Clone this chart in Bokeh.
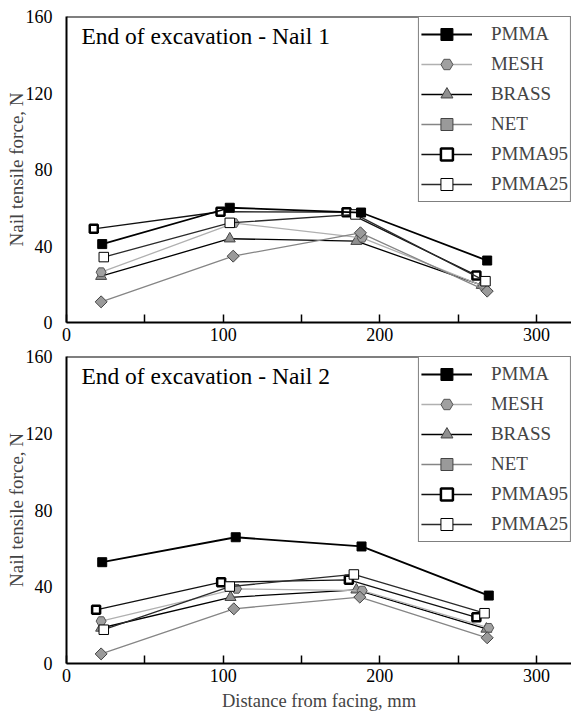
import math
from bokeh.plotting import figure
from bokeh.models import FixedTicker, Legend, LegendItem, Label, Range1d, Span
from bokeh.layouts import column
from bokeh.embed import file_html
from bokeh.resources import INLINE

FONT = "Liberation Serif"

# ---------------- data ----------------
series = ["PMMA", "MESH", "BRASS", "NET", "PMMA95", "PMMA25"]

# Nail 1
n1_pmma_x = [22.8, 104.2, 188.0, 268.5]
n1_pmma_y = [41.0, 60.0, 57.5, 32.4]
n1_mesh_x = [22.1, 107.0, 188.7, 266.0]
n1_mesh_y = [26.3, 52.0, 44.3, 19.0]
n1_brass_x = [22.1, 104.2, 185.0, 265.0]
n1_brass_y = [24.2, 43.8, 42.5, 19.5]
n1_net_x = [22.1, 106.4, 187.6, 268.5]
n1_net_y = [10.8, 34.7, 46.9, 16.4]
n1_pmma95_x = [17.4, 98.3, 178.7, 261.6]
n1_pmma95_y = [49.0, 57.9, 57.7, 24.6]
n1_pmma25_x = [23.8, 104.2, 184.4, 267.4]
n1_pmma25_y = [34.2, 52.1, 56.5, 21.6]

# Nail 2
n2_pmma_x = [22.8, 108.0, 188.3, 269.5]
n2_pmma_y = [52.8, 65.8, 61.0, 35.4]
n2_mesh_x = [22.1, 108.5, 188.7, 269.5]
n2_mesh_y = [22.1, 38.9, 38.0, 18.6]
n2_brass_x = [22.1, 104.7, 185.0, 268.0]
n2_brass_y = [18.5, 34.5, 38.4, 18.0]
n2_net_x = [22.1, 106.8, 187.2, 268.5]
n2_net_y = [5.0, 28.5, 34.6, 13.4]
n2_pmma95_x = [18.9, 98.7, 180.2, 261.6]
n2_pmma95_y = [28.0, 42.4, 43.6, 24.1]
n2_pmma25_x = [23.8, 104.2, 183.4, 266.8]
n2_pmma25_y = [17.6, 40.1, 46.4, 26.2]

x_ticks = [0, 100, 200, 300]
x_minor = [50, 150, 250]
y_ticks = [0, 40, 80, 120, 160]
X_MAX = 322.3
Y_MAX = 160

panel1 = {
    "PMMA": (n1_pmma_x, n1_pmma_y), "MESH": (n1_mesh_x, n1_mesh_y),
    "BRASS": (n1_brass_x, n1_brass_y), "NET": (n1_net_x, n1_net_y),
    "PMMA95": (n1_pmma95_x, n1_pmma95_y), "PMMA25": (n1_pmma25_x, n1_pmma25_y),
}
panel2 = {
    "PMMA": (n2_pmma_x, n2_pmma_y), "MESH": (n2_mesh_x, n2_mesh_y),
    "BRASS": (n2_brass_x, n2_brass_y), "NET": (n2_net_x, n2_net_y),
    "PMMA95": (n2_pmma95_x, n2_pmma95_y), "PMMA25": (n2_pmma25_x, n2_pmma25_y),
}

# ---------------- styles ----------------
styles = {
    "PMMA":   dict(line="#000000", lw=1.8, marker="square", size=9, fill="#000000", mline="#000000", mlw=1, angle=0),
    "MESH":   dict(line="#b0b0b0", lw=1.3, marker="hex", size=10, fill="#a0a0a0", mline="#555555", mlw=1, angle=0),
    "BRASS":  dict(line="#000000", lw=1.3, marker="triangle", size=11, fill="#909090", mline="#444444", mlw=1, angle=0),
    "NET":    dict(line="#858585", lw=1.3, marker="square", size=8.5, fill="#9a9a9a", mline="#444444", mlw=1, angle=math.pi / 4),
    "PMMA95": dict(line="#111111", lw=1.3, marker="square", size=8, fill="#ffffff", mline="#000000", mlw=2.5, angle=0),
    "PMMA25": dict(line="#2a2a2a", lw=1.3, marker="square", size=9.5, fill="#ffffff", mline="#000000", mlw=1, angle=0),
}
draw_order = ["BRASS", "MESH", "NET", "PMMA95", "PMMA25", "PMMA"]


def make_panel(data, title, bottom_label, top_border, bottom_border, frame_h):
    p = figure(frame_width=505, frame_height=frame_h,
               x_range=Range1d(0, X_MAX), y_range=Range1d(0, Y_MAX),
               output_backend="svg", toolbar_location=None,
               min_border_left=66, min_border_right=0,
               min_border_top=top_border, min_border_bottom=bottom_border)
    p.outline_line_color = None
    p.grid.visible = False
    p.background_fill_color = "white"
    p.border_fill_color = "white"

    xa = p.xaxis[0]
    xa.ticker = FixedTicker(ticks=x_ticks, minor_ticks=x_minor)
    xa.axis_line_width = 2
    xa.major_tick_in = 8
    xa.major_tick_out = 0
    xa.minor_tick_in = 8
    xa.minor_tick_out = 0
    xa.major_tick_line_width = 1.5
    xa.minor_tick_line_width = 1.5
    xa.major_label_standoff = 5
    xa.major_label_text_font = FONT
    xa.major_label_text_font_size = "18px"
    xa.major_label_text_color = "black"
    if bottom_label:
        xa.axis_label = bottom_label
        xa.axis_label_text_font = FONT
        xa.axis_label_text_font_size = "18.5px"
        xa.axis_label_text_font_style = "normal"
        xa.axis_label_standoff = 6

    ya = p.yaxis[0]
    ya.ticker = FixedTicker(ticks=y_ticks, minor_ticks=[])
    ya.axis_line_width = 2
    ya.major_tick_line_color = None
    ya.minor_tick_line_color = None
    ya.major_label_standoff = 8
    ya.major_label_text_font = FONT
    ya.major_label_text_font_size = "18px"
    ya.major_label_text_color = "black"
    ya.axis_label = "Nail tensile force, N"
    ya.axis_label_text_font = FONT
    ya.axis_label_text_font_size = "19px"
    ya.axis_label_text_font_style = "normal"
    ya.axis_label_standoff = -4

    # top frame line
    p.add_layout(Span(location=Y_MAX, dimension="width", line_color="black", line_width=2))

    rends = {}
    for name in draw_order:
        xs, ys = data[name]
        s = styles[name]
        lr = p.line(xs, ys, line_color=s["line"], line_width=s["lw"])
        sr = p.scatter(xs, ys, marker=s["marker"], size=s["size"], angle=s["angle"],
                       fill_color=s["fill"], line_color=s["mline"], line_width=s["mlw"])
        rends[name] = [lr, sr]

    items = [LegendItem(label=n, renderers=rends[n]) for n in series]
    leg = Legend(items=items, location="top_right", margin=0, padding=2, spacing=0,
                 label_height=30, glyph_height=30, glyph_width=51, label_standoff=19,
                 border_line_color="black", border_line_width=1,
                 label_text_font=FONT, label_text_font_size="19px",
                 background_fill_color="white", background_fill_alpha=1)
    p.add_layout(leg)

    p.add_layout(Label(x=9.5, y=149.6, text=title, text_font=FONT,
                       text_font_size="23.5px", text_baseline="middle",
                       text_color="black"))
    return p


p1 = make_panel(panel1, "End of excavation - Nail 1", None, 16, 25, 306)
p2 = make_panel(panel2, "End of excavation - Nail 2", "Distance from facing, mm", 9, 40, 307)

layout = column(p1, p2, spacing=0)
open("out.html", "w").write(file_html(layout, INLINE))
